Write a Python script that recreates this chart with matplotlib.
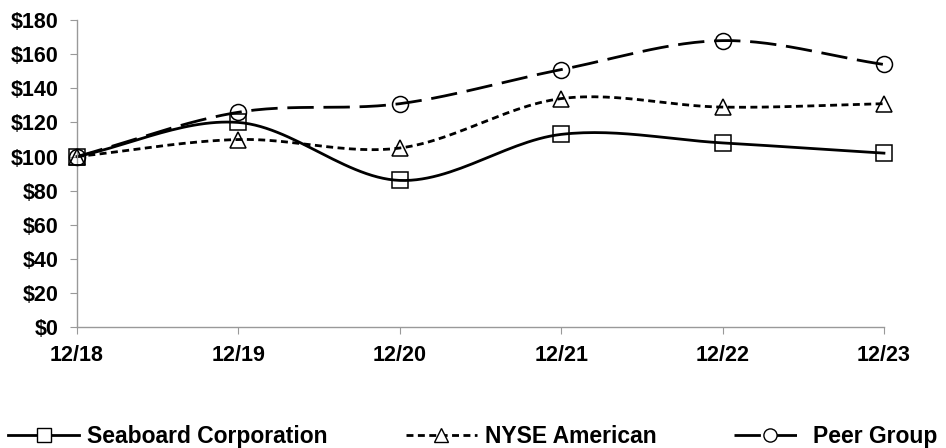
import numpy as np
import matplotlib.pyplot as plt
from matplotlib.ticker import FuncFormatter

plt.rcParams['font.family'] = ['Liberation Sans', 'DejaVu Sans']
plt.rcParams['font.weight'] = 'bold'

# datos
periods = ['12/18', '12/19', '12/20', '12/21', '12/22', '12/23']
seaboard = [100, 120, 86, 113, 108, 102]
nyse = [100, 110, 105, 134, 129, 131]
peer = [100, 126, 131, 151, 168, 154]


def smooth(y, n=30):
    # curva suavizada estilo Excel (Catmull-Rom)
    x = np.arange(len(y), dtype=float)
    y = np.asarray(y, dtype=float)
    px = np.concatenate([[2 * x[0] - x[1]], x, [2 * x[-1] - x[-2]]])
    py = np.concatenate([[2 * y[0] - y[1]], y, [2 * y[-1] - y[-2]]])
    xs, ys = [], []
    t = np.linspace(0, 1, n)
    for i in range(1, len(px) - 2):
        for p, out in ((px, xs), (py, ys)):
            p0, p1, p2, p3 = p[i - 1], p[i], p[i + 1], p[i + 2]
            out.extend(0.5 * (2 * p1 + (-p0 + p2) * t
                              + (2 * p0 - 5 * p1 + 4 * p2 - p3) * t ** 2
                              + (-p0 + 3 * p1 - 3 * p2 + p3) * t ** 3))
    return np.array(xs), np.array(ys)


fig = plt.figure(figsize=(9.46, 4.48), dpi=100)
ax = fig.add_axes([0.0814, 0.270, 0.853, 0.685])

x = np.arange(len(periods))
lw = 2.0
styles = [
    (seaboard, 'Seaboard Corporation', '-', 's', 11.5),
    (nyse, 'NYSE American', (0, (2.5, 1.6)), '^', 11),
    (peer, 'Peer Group', (0, (9.5, 3.5)), 'o', 11.5),
]
handles = []
for vals, lab, ls, mk, ms in styles:
    sx, sy = smooth(vals)
    ax.plot(sx, sy, color='black', linestyle=ls, linewidth=lw, zorder=2,
            clip_on=False)
    ax.plot(x, vals, linestyle='none', marker=mk, markersize=ms,
            markerfacecolor='none', markeredgecolor='black',
            markeredgewidth=1.1, zorder=3, clip_on=False)
    h, = plt.plot([], [], color='black', linestyle=ls, linewidth=lw,
                  marker=mk, markersize=9.5, markerfacecolor='white',
                  markeredgecolor='black', markeredgewidth=1.0, label=lab)
    handles.append(h)

ax.set_xlim(0, 5)
ax.set_ylim(0, 180)
ax.set_yticks(range(0, 181, 20))
ax.yaxis.set_major_formatter(FuncFormatter(lambda v, p: '$%d' % v))
ax.set_xticks(x)
ax.set_xticklabels(periods)
for s in ['top', 'right']:
    ax.spines[s].set_visible(False)
for s in ['left', 'bottom']:
    ax.spines[s].set_color('#999999')
    ax.spines[s].set_linewidth(1.0)
ax.tick_params(axis='both', colors='#999999', labelcolor='black',
               labelsize=15.5, length=5)
ax.tick_params(axis='x', pad=8)
ax.tick_params(axis='y', pad=8)
for lbl in ax.get_xticklabels() + ax.get_yticklabels():
    lbl.set_fontweight('bold')

leg = fig.legend(handles=handles, loc='center', ncol=3,
                 bbox_to_anchor=(0.5, 0.025), frameon=False,
                 prop={'size': 16.5, 'weight': 'bold'},
                 handlelength=3.1, columnspacing=3.4, handletextpad=0.35,
                 borderaxespad=0, borderpad=0)

fig.savefig('out.png', dpi=100)
